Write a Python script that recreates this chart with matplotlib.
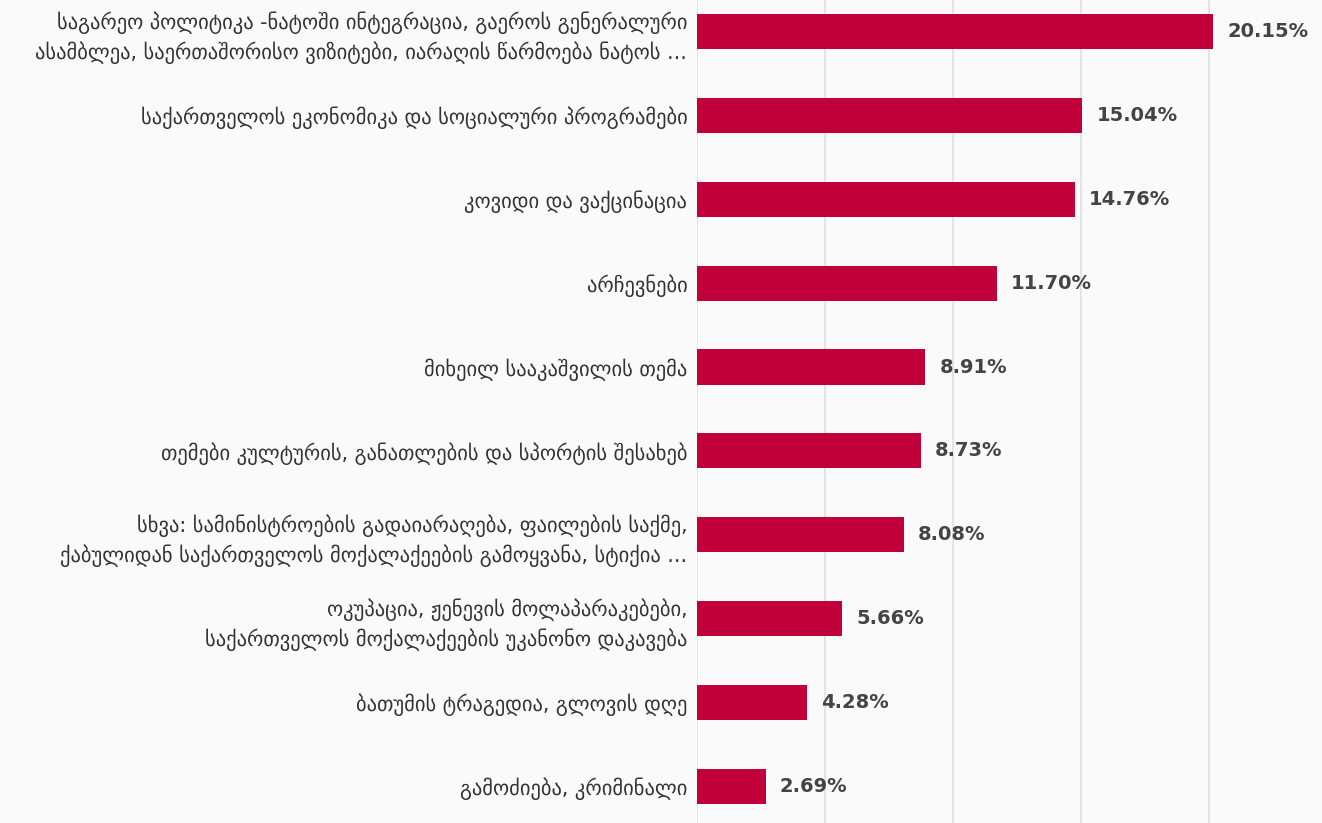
import matplotlib.pyplot as plt

# მონაცემები
categories = [
    'საგარეო პოლიტიკა -ნატოში ინტეგრაცია, გაეროს გენერალური\nასამბლეა, საერთაშორისო ვიზიტები, იარაღის წარმოება ნატოს ...',
    'საქართველოს ეკონომიკა და სოციალური პროგრამები',
    'კოვიდი და ვაქცინაცია',
    'არჩევნები',
    'მიხეილ სააკაშვილის თემა',
    'თემები კულტურის, განათლების და სპორტის შესახებ',
    'სხვა: სამინისტროების გადაიარაღება, ფაილების საქმე,\nქაბულიდან საქართველოს მოქალაქეების გამოყვანა, სტიქია ...',
    'ოკუპაცია, ჟენევის მოლაპარაკებები,\nსაქართველოს მოქალაქეების უკანონო დაკავება',
    'ბათუმის ტრაგედია, გლოვის დღე',
    'გამოძიება, კრიმინალი',
]
values = [20.15, 15.04, 14.76, 11.70, 8.91, 8.73, 8.08, 5.66, 4.28, 2.69]
grid_ticks = [0, 5, 10, 15, 20]

plt.rcParams['font.family'] = ['DejaVu Sans']

fig = plt.figure(figsize=(13.22, 8.23), dpi=100)
fig.patch.set_facecolor('#fafafa')
ax = fig.add_axes([697 / 1322, 0, 1 - 697 / 1322, 1])
ax.set_facecolor('#fafafa')

pos = list(range(len(values)))
ax.barh(pos, values, height=0.42, color='#c1003b', zorder=3)

for p, v in zip(pos, values):
    ax.text(v + 0.55, p, f'{v:.2f}%', va='center', ha='left',
            fontsize=14, fontweight='bold', color='#444444', zorder=4)

ax.set_xlim(0, 24.4)
ax.set_ylim(9.44, -0.38)
ax.set_xticks(grid_ticks)
ax.set_xticklabels([])
ax.tick_params(axis='x', length=0)
ax.grid(axis='x', color='#e0e0e0', linewidth=1.2, zorder=0)
ax.set_yticks(pos)
ax.set_yticklabels(categories, fontsize=14.8, color='#333333', linespacing=1.4)
ax.tick_params(axis='y', length=0, pad=7)
for s in ax.spines.values():
    s.set_visible(False)

fig.savefig('out.png', dpi=100, facecolor=fig.get_facecolor())
